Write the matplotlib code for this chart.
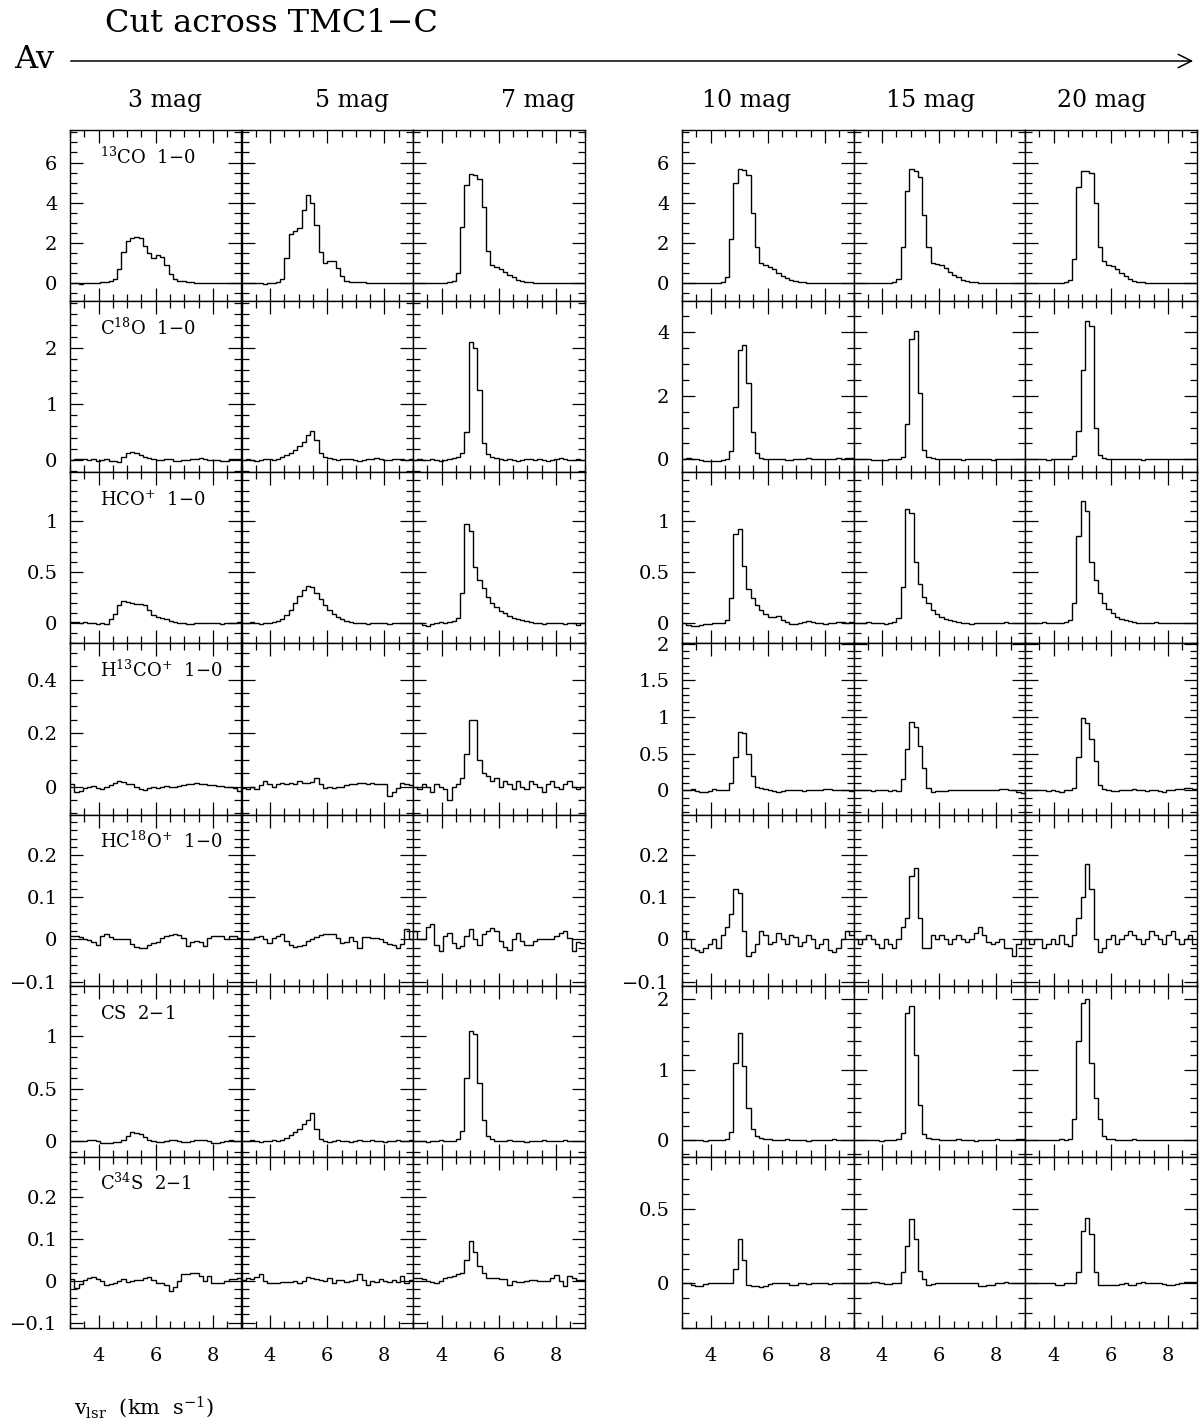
import numpy as np
import matplotlib.pyplot as plt
from matplotlib.ticker import MultipleLocator, FuncFormatter

plt.rcParams['font.family'] = 'DejaVu Serif'
plt.rcParams['mathtext.fontset'] = 'dejavuserif'

# channel edges in km/s (0.15 km/s channels)
chan_edges = np.linspace(3.0, 9.0, 41)

av_cols = ['3 mag', '5 mag', '7 mag', '10 mag', '15 mag', '20 mag']
line_names = [r'$^{13}$CO  1$-$0', r'C$^{18}$O  1$-$0', r'HCO$^{+}$  1$-$0',
              r'H$^{13}$CO$^{+}$  1$-$0', r'HC$^{18}$O$^{+}$  1$-$0',
              r'CS  2$-$1', r'C$^{34}$S  2$-$1']

# spectra, one list per Av column (3, 5, 7, 10, 15, 20 mag)
co13 = [
    [0.0, -0.02, -0.03, -0.02, 0.0, 0.0, 0.02, 0.03, 0.05, 0.08, 0.2, 0.7, 1.55, 2.1, 2.25, 2.3, 2.25, 1.85, 1.5, 1.25,
     1.4, 1.3, 0.9, 0.45, 0.2, 0.1, 0.08, 0.05, 0.03, 0.02, 0.01, 0.0, 0.0, 0.0, 0.0, 0.01, 0.0, 0.0, -0.01, 0.0],
    [0.0, 0.01, 0.02, 0.0, -0.02, -0.03, -0.02, 0.0, 0.05, 0.2, 1.25, 2.45, 2.6, 2.75, 3.65, 4.4, 4.0, 2.9, 1.55, 1.0,
     1.1, 1.1, 0.75, 0.33, 0.12, 0.07, 0.05, 0.04, 0.03, 0.02, 0.01, 0.0, 0.0, 0.0, 0.0, -0.01, -0.02, -0.01, 0.0, 0.01],
    [0.0, -0.02, 0.0, 0.02, 0.0, -0.02, 0.0, 0.02, 0.05, 0.1, 0.5, 2.8, 4.9, 5.45, 5.4, 5.2, 3.8, 1.6, 0.9, 0.8,
     0.7, 0.55, 0.4, 0.3, 0.15, 0.08, 0.05, 0.03, 0.02, 0.0, 0.0, 0.01, 0.0, 0.0, -0.01, 0.0, 0.0, 0.0, 0.01, 0.0],
    [0.0, 0.0, -0.01, 0.0, 0.0, 0.01, 0.0, 0.0, 0.02, 0.05, 0.3, 2.2, 5.0, 5.7, 5.65, 5.4, 3.5, 1.8, 1.0, 0.9,
     0.8, 0.7, 0.5, 0.35, 0.25, 0.15, 0.1, 0.05, 0.03, 0.02, 0.0, 0.0, 0.0, 0.01, 0.0, 0.0, -0.01, 0.0, 0.0, 0.0],
    [0.0, 0.0, 0.0, 0.01, 0.0, 0.0, -0.01, 0.0, 0.02, 0.05, 0.2, 1.8, 4.6, 5.7, 5.6, 5.3, 3.4, 1.8, 1.0, 0.95,
     0.9, 0.75, 0.55, 0.4, 0.3, 0.15, 0.1, 0.05, 0.03, 0.02, 0.01, 0.0, 0.0, 0.0, 0.01, 0.0, 0.0, 0.0, -0.01, 0.0],
    [0.0, 0.0, 0.01, 0.0, 0.0, -0.01, 0.0, 0.0, 0.01, 0.03, 0.15, 1.2, 4.8, 5.6, 5.6, 5.5, 4.0, 1.8, 1.1, 0.9,
     0.85, 0.7, 0.5, 0.35, 0.2, 0.1, 0.05, 0.03, 0.02, 0.01, 0.0, 0.0, 0.0, 0.0, 0.0, 0.01, 0.0, 0.0, 0.0, 0.0],
]
c18o = [
    [0.0, 0.01, 0.02, 0.01, 0.0, 0.01, -0.01, 0.0, 0.02, -0.01, -0.02, -0.03, 0.05, 0.13, 0.14, 0.12, 0.08, 0.05, 0.03, 0.02,
     0.0, 0.0, 0.02, 0.01, -0.01, -0.01, 0.0, 0.0, 0.01, 0.02, 0.03, 0.02, 0.0, 0.0, 0.0, -0.01, -0.01, 0.01, 0.02, 0.02],
    [0.0, 0.01, 0.0, -0.01, 0.0, 0.01, 0.02, 0.0, 0.02, 0.05, 0.08, 0.12, 0.18, 0.25, 0.32, 0.45, 0.52, 0.35, 0.12, 0.05,
     0.03, 0.02, 0.0, 0.01, 0.02, 0.01, 0.0, -0.01, 0.0, 0.01, 0.02, 0.03, 0.02, 0.0, 0.0, 0.01, 0.02, 0.01, 0.0, 0.01],
    [0.0, 0.02, 0.0, 0.0, 0.01, 0.0, -0.01, 0.0, 0.02, 0.03, 0.05, 0.12, 0.5, 2.1, 2.0, 1.25, 0.3, 0.1, 0.05, 0.03,
     0.02, 0.0, 0.01, 0.0, -0.01, 0.0, 0.02, 0.01, 0.0, 0.01, 0.0, -0.01, 0.0, 0.02, 0.03, 0.01, 0.0, 0.0, 0.01, 0.0],
    [0.02, 0.03, 0.02, 0.0, -0.03, -0.05, -0.06, -0.06, -0.05, -0.03, 0.02, 0.25, 1.65, 3.45, 3.6, 2.4, 0.85, 0.2, 0.03, 0.0,
     0.0, 0.01, 0.0, 0.0, -0.01, -0.02, 0.0, 0.01, 0.02, 0.03, 0.02, 0.0, 0.0, 0.01, 0.0, 0.02, 0.03, 0.02, 0.04, 0.05],
    [0.0, 0.0, 0.01, 0.0, -0.02, -0.03, -0.02, -0.01, 0.0, 0.0, 0.01, 0.08, 1.1, 3.8, 4.05, 2.1, 0.3, 0.08, 0.03, 0.02,
     0.0, 0.0, 0.01, 0.0, 0.0, -0.01, 0.0, 0.0, 0.01, 0.0, 0.0, 0.0, -0.01, 0.0, 0.0, 0.01, 0.02, 0.01, 0.0, 0.0],
    [0.0, 0.0, 0.0, 0.01, 0.0, -0.01, 0.0, 0.0, 0.0, 0.01, 0.02, 0.1, 0.9, 2.8, 4.35, 4.2, 1.0, 0.15, 0.05, 0.02,
     0.0, 0.01, 0.0, 0.0, 0.0, 0.01, 0.0, -0.01, 0.0, 0.0, 0.01, 0.0, 0.0, 0.0, 0.01, 0.0, 0.0, 0.0, 0.0, 0.01],
]
hco = [
    [0.01, 0.01, 0.0, 0.01, 0.0, 0.0, -0.01, 0.0, -0.01, 0.04, 0.09, 0.18, 0.22, 0.21, 0.2, 0.19, 0.19, 0.18, 0.13, 0.08,
     0.06, 0.05, 0.04, 0.02, 0.01, 0.0, 0.0, -0.01, -0.01, 0.0, 0.0, 0.0, 0.0, 0.0, 0.0, -0.01, 0.0, 0.0, 0.0, 0.01],
    [0.0, 0.0, 0.01, 0.0, -0.01, 0.0, 0.0, 0.01, 0.02, 0.04, 0.08, 0.13, 0.2, 0.27, 0.32, 0.36, 0.35, 0.3, 0.24, 0.18,
     0.13, 0.09, 0.06, 0.04, 0.02, 0.01, 0.0, 0.0, 0.0, -0.01, 0.0, 0.0, 0.0, 0.0, -0.01, 0.0, 0.0, 0.0, 0.0, 0.0],
    [0.0, 0.0, -0.02, -0.03, -0.01, 0.0, 0.01, 0.0, 0.01, 0.02, 0.05, 0.3, 0.97, 0.9, 0.55, 0.42, 0.34, 0.26, 0.2, 0.16,
     0.12, 0.1, 0.07, 0.05, 0.04, 0.03, 0.02, 0.01, 0.0, 0.0, -0.01, 0.0, 0.0, 0.0, 0.0, -0.01, 0.0, 0.0, -0.02, 0.0],
    [0.0, -0.02, -0.03, -0.03, -0.02, -0.01, -0.01, 0.0, 0.0, 0.0, 0.03, 0.25, 0.87, 0.92, 0.56, 0.33, 0.25, 0.18, 0.13, 0.09,
     0.06, 0.06, 0.07, 0.03, 0.01, -0.01, -0.01, 0.0, 0.01, 0.02, 0.01, 0.0, 0.0, -0.01, 0.0, 0.0, 0.01, 0.01, 0.0, 0.01],
    [0.0, 0.0, 0.0, 0.01, 0.0, 0.0, 0.0, -0.01, 0.0, 0.01, 0.05, 0.35, 1.12, 1.08, 0.6, 0.38, 0.26, 0.2, 0.13, 0.09,
     0.06, 0.04, 0.03, 0.02, 0.01, 0.0, 0.0, -0.01, 0.0, 0.0, 0.0, 0.0, 0.0, 0.0, 0.0, 0.01, 0.0, 0.0, 0.0, 0.0],
    [0.0, 0.0, 0.0, 0.0, 0.01, 0.0, 0.0, 0.0, 0.0, 0.01, 0.03, 0.2, 0.85, 1.2, 1.1, 0.6, 0.42, 0.3, 0.2, 0.14,
     0.1, 0.06, 0.04, 0.03, 0.02, 0.01, 0.0, 0.0, 0.0, 0.0, 0.01, 0.0, 0.0, 0.0, 0.0, 0.0, 0.0, 0.0, 0.0, 0.0],
]
h13co = [
    [0.01, -0.02, -0.015, -0.005, 0.0, 0.003, -0.005, -0.01, -0.003, 0.005, 0.012, 0.02, 0.018, 0.01, 0.008, 0.0, -0.01, -0.012, -0.005, -0.002,
     -0.005, 0.0, 0.002, -0.002, 0.0, 0.003, 0.006, 0.008, 0.01, 0.012, 0.01, 0.008, 0.006, 0.005, 0.003, 0.002, 0.0, -0.002, -0.005, -0.015],
    [-0.005, -0.008, 0.0, -0.01, 0.005, 0.02, 0.008, 0.0, 0.01, 0.012, 0.008, 0.015, 0.01, 0.02, 0.012, 0.015, 0.018, 0.03, 0.01, -0.005,
     0.0, -0.005, -0.003, 0.0, 0.005, 0.008, 0.01, 0.012, 0.015, 0.01, 0.012, 0.01, 0.008, 0.008, -0.035, -0.02, -0.005, 0.015, 0.01, 0.005],
    [0.0, -0.01, 0.01, 0.0, -0.02, 0.01, 0.0, -0.01, -0.05, 0.0, 0.01, 0.03, 0.12, 0.25, 0.25, 0.1, 0.05, 0.04, 0.02, 0.03,
     0.0, 0.02, 0.01, -0.01, 0.02, 0.0, -0.01, 0.02, 0.01, 0.0, -0.02, 0.01, 0.02, 0.0, -0.01, 0.01, 0.02, 0.0, -0.01, 0.0],
    [0.0, 0.01, 0.02, -0.01, -0.02, -0.02, -0.01, 0.02, 0.01, 0.0, 0.0, 0.1, 0.45, 0.8, 0.78, 0.5, 0.2, 0.05, 0.03, 0.02,
     0.0, -0.01, -0.02, -0.01, 0.01, 0.0, 0.01, 0.0, -0.01, 0.0, 0.01, 0.0, 0.0, 0.02, 0.02, 0.01, 0.01, 0.0, 0.0, -0.01],
    [0.0, 0.0, 0.01, 0.0, -0.01, 0.0, 0.0, 0.0, -0.01, 0.0, -0.01, 0.15, 0.57, 0.93, 0.87, 0.6, 0.3, 0.03, -0.02, -0.01,
     -0.01, -0.01, 0.0, 0.0, 0.0, 0.0, 0.01, 0.01, 0.01, 0.0, 0.0, 0.0, 0.0, 0.01, 0.02, 0.02, 0.01, 0.0, -0.02, -0.03],
    [0.0, 0.0, 0.01, 0.0, 0.0, -0.01, 0.0, -0.01, -0.02, 0.0, 0.01, 0.03, 0.45, 0.98, 0.92, 0.7, 0.4, 0.08, 0.02, 0.0,
     -0.01, -0.01, 0.0, 0.01, 0.01, 0.02, 0.01, 0.0, -0.01, 0.0, 0.0, -0.01, -0.02, 0.0, 0.01, 0.02, 0.02, 0.03, 0.03, 0.02],
]
hc18o = [
    [0.008, 0.008, 0.005, 0.0, -0.002, -0.005, -0.012, 0.008, 0.012, 0.005, 0.002, 0.002, 0.002, 0.0, -0.01, -0.018, -0.02, -0.02, -0.014, -0.008,
     -0.005, 0.004, 0.008, 0.01, 0.012, 0.01, 0.004, -0.016, -0.006, -0.004, -0.006, -0.016, 0.004, 0.008, 0.008, 0.008, 0.002, 0.008, 0.008, 0.004],
    [0.002, 0.002, 0.002, 0.006, 0.008, 0.0, -0.008, 0.004, 0.008, 0.012, -0.004, -0.014, -0.018, -0.016, -0.012, -0.004, 0.0, 0.006, 0.01, 0.012,
     0.013, 0.014, 0.004, -0.008, -0.006, 0.006, -0.004, -0.02, 0.006, 0.005, 0.004, 0.004, 0.0, -0.006, -0.01, -0.012, -0.02, -0.01, 0.025, 0.0],
    [0.02, 0.002, 0.002, 0.03, 0.038, -0.012, -0.027, 0.008, 0.016, -0.008, -0.02, -0.015, 0.008, 0.024, 0.0, -0.014, 0.012, 0.02, 0.027, 0.02,
     -0.004, -0.018, -0.024, 0.0, 0.016, -0.004, -0.012, -0.012, -0.004, 0.0, 0.002, 0.002, 0.002, 0.008, 0.015, 0.02, 0.004, -0.028, -0.006, -0.008],
    [0.02, 0.0, -0.02, -0.025, -0.03, -0.02, -0.01, 0.0, -0.02, 0.01, 0.03, 0.06, 0.12, 0.11, 0.02, -0.04, -0.03, -0.01, 0.02, 0.01,
     -0.01, -0.005, 0.015, 0.0, -0.01, 0.01, 0.005, -0.015, -0.005, 0.01, 0.0, -0.02, -0.01, 0.0, -0.025, -0.03, -0.02, 0.0, 0.02, 0.01],
    [0.0, -0.01, 0.0, 0.01, 0.0, -0.01, -0.02, 0.0, -0.01, -0.02, 0.0, 0.03, 0.05, 0.15, 0.17, 0.05, -0.02, -0.02, 0.01, 0.0,
     0.01, 0.0, -0.01, 0.0, 0.01, 0.0, -0.005, 0.0, 0.015, 0.03, 0.01, -0.005, -0.01, -0.005, 0.0, -0.02, -0.02, -0.04, -0.01, 0.0],
    [0.0, -0.01, 0.0, 0.0, -0.02, -0.01, 0.0, -0.01, 0.01, -0.01, -0.015, 0.01, 0.05, 0.1, 0.18, 0.12, 0.0, -0.03, -0.02, 0.0,
     0.01, -0.01, 0.0, 0.01, 0.02, 0.01, 0.0, -0.01, 0.0, 0.02, 0.01, 0.0, -0.01, 0.01, 0.02, 0.0, -0.01, 0.0, 0.01, -0.01],
]
cs = [
    [0.0, 0.0, 0.0, 0.0, 0.01, 0.01, 0.0, -0.02, -0.02, -0.015, -0.01, -0.005, 0.01, 0.05, 0.09, 0.08, 0.07, 0.04, 0.01, 0.0,
     -0.01, -0.01, 0.0, 0.01, 0.01, 0.0, -0.01, -0.01, 0.0, 0.01, 0.01, 0.01, 0.0, -0.015, -0.015, -0.005, 0.0, 0.01, 0.0, 0.0],
    [0.0, 0.0, 0.01, 0.0, -0.01, 0.0, 0.0, 0.01, 0.0, 0.01, 0.03, 0.06, 0.09, 0.12, 0.16, 0.2, 0.27, 0.12, 0.02, 0.0,
     -0.01, 0.0, 0.01, 0.0, 0.0, -0.01, 0.0, 0.01, 0.0, 0.0, 0.01, 0.0, 0.0, -0.01, 0.0, 0.0, 0.01, 0.0, 0.0, 0.01],
    [0.0, 0.0, 0.0, -0.01, 0.0, 0.0, 0.01, 0.0, 0.0, 0.0, 0.02, 0.1, 0.6, 1.05, 1.02, 0.55, 0.2, 0.05, 0.02, 0.0,
     0.0, 0.0, 0.01, 0.0, 0.0, 0.0, -0.01, 0.0, 0.0, 0.0, 0.01, 0.0, 0.0, 0.0, 0.0, 0.01, 0.0, 0.0, 0.0, 0.0],
    [0.0, 0.0, 0.0, 0.0, 0.0, -0.01, 0.0, 0.0, 0.0, 0.0, 0.02, 0.12, 1.1, 1.52, 1.05, 0.45, 0.15, 0.05, 0.03, 0.02,
     0.01, 0.0, 0.0, 0.0, 0.01, 0.0, 0.0, 0.0, 0.0, -0.01, 0.0, 0.0, 0.0, 0.0, 0.0, 0.01, 0.0, 0.0, 0.0, 0.0],
    [0.0, 0.0, 0.0, 0.0, 0.0, 0.0, -0.01, 0.0, 0.0, 0.0, 0.02, 0.1, 1.8, 1.9, 1.2, 0.5, 0.08, 0.03, 0.02, 0.01,
     0.0, 0.0, 0.0, 0.0, 0.01, 0.0, 0.0, 0.0, -0.01, 0.0, 0.0, 0.0, 0.0, 0.01, 0.0, 0.0, 0.0, 0.0, 0.01, 0.01],
    [0.0, 0.0, 0.0, 0.0, 0.0, 0.0, 0.0, 0.0, 0.01, 0.0, 0.02, 0.3, 1.4, 1.95, 2.0, 1.1, 0.6, 0.3, 0.05, 0.02,
     0.01, 0.0, 0.0, 0.0, 0.0, 0.01, 0.0, 0.0, 0.0, 0.0, 0.0, 0.0, 0.0, 0.0, 0.0, 0.0, 0.0, 0.0, 0.0, 0.0],
]
c34s = [
    [0.004, -0.016, -0.008, 0.002, 0.008, 0.01, 0.004, 0.0, -0.01, -0.008, -0.005, 0.0, 0.004, -0.002, 0.0, 0.001, 0.002, 0.006, 0.01, 0.002,
     -0.004, -0.006, -0.01, -0.024, -0.014, 0.0, 0.016, 0.017, 0.018, 0.02, 0.012, 0.0, 0.012, -0.006, -0.005, -0.004, 0.0, 0.004, 0.005, 0.006],
    [0.002, 0.008, 0.004, 0.01, 0.016, 0.0, -0.004, -0.004, -0.004, -0.003, -0.002, -0.002, 0.0, -0.004, 0.0, 0.01, 0.006, 0.004, 0.002, 0.0,
     0.006, -0.004, 0.002, 0.002, -0.003, 0.0, 0.003, 0.016, 0.002, -0.01, 0.0, -0.003, 0.004, 0.0, -0.003, 0.002, -0.002, 0.012, -0.004, 0.002],
    [0.008, 0.008, 0.004, 0.0, -0.002, -0.004, 0.0, 0.006, 0.01, 0.012, 0.016, 0.02, 0.05, 0.095, 0.07, 0.035, 0.02, 0.008, 0.008, 0.008,
     0.004, 0.004, -0.01, 0.0, -0.002, -0.002, 0.0, 0.002, 0.002, 0.0, 0.0, 0.0, 0.008, 0.013, 0.0, -0.012, 0.012, 0.008, 0.002, 0.002],
    [0.0, 0.0, -0.01, -0.017, -0.015, -0.005, 0.0, 0.0, 0.0, 0.0, 0.0, 0.005, 0.1, 0.3, 0.16, -0.01, -0.015, -0.02, -0.025, -0.02,
     -0.005, 0.0, 0.0, 0.0, 0.0, -0.01, -0.01, 0.0, 0.0, -0.005, 0.0, 0.005, 0.0, 0.0, -0.005, 0.0, 0.0, 0.0, 0.0, 0.0],
    [0.0, 0.0, 0.0, 0.005, 0.01, 0.01, 0.005, -0.005, -0.005, 0.0, 0.0, 0.075, 0.25, 0.43, 0.3, 0.085, 0.03, -0.01, -0.005, 0.0,
     0.0, 0.0, 0.0, 0.0, 0.005, 0.005, 0.0, 0.0, 0.0, -0.02, -0.02, -0.01, -0.01, 0.0, 0.005, 0.01, 0.005, 0.0, 0.005, 0.005],
    [0.0, 0.0, 0.005, 0.005, 0.0, 0.0, 0.0, -0.01, -0.01, 0.0, 0.0, 0.0, 0.075, 0.35, 0.44, 0.33, 0.075, -0.01, -0.01, -0.01,
     -0.01, -0.01, -0.005, 0.0, -0.01, -0.01, 0.005, 0.01, 0.0, 0.0, 0.0, 0.0, -0.005, -0.01, -0.01, -0.005, 0.0, 0.01, 0.01, 0.01],
]
spectra = [co13, c18o, hco, h13co, hc18o, cs, c34s]

# y ranges and (major, minor) tick steps, left group / right group
ylim_left = [(-0.9, 7.62), (-0.22, 2.83), (-0.2, 1.48), (-0.105, 0.535), (-0.11, 0.297), (-0.15, 1.48), (-0.113, 0.297)]
ylim_right = [(-0.9, 7.62), (-0.41, 4.98), (-0.2, 1.48), (-0.33, 2.003), (-0.11, 0.297), (-0.24, 2.19), (-0.3, 0.85)]
ytk_left = [(2, 0.5), (1, 0.2), (0.5, 0.1), (0.2, 0.05), (0.1, 0.02), (0.5, 0.1), (0.1, 0.02)]
ytk_right = [(2, 0.5), (2, 0.5), (0.5, 0.1), (0.5, 0.1), (0.1, 0.02), (1, 0.2), (0.5, 0.1)]

W, H = 1200, 1427
fig = plt.figure(figsize=(W / 100, H / 100), dpi=100)

col_x = [70, 241.5, 413, 682, 853.5, 1025]
pw = 171.5
top0 = 130
ph = 171.15


def yfmt(v, pos):
    if abs(v) < 1e-9:
        return '0'
    return ('%g' % round(v, 4)).replace('-', '\u2212')


nrow = len(spectra)
for r in range(nrow):
    for c in range(6):
        x0 = col_x[c]
        y0 = top0 + r * ph
        ax = fig.add_axes([x0 / W, 1 - (y0 + ph) / H, pw / W, ph / H])
        ax.stairs(spectra[r][c], chan_edges, baseline=None, color='k', lw=1.0)
        ax.set_xlim(3, 9)
        if c < 3:
            ax.set_ylim(*ylim_left[r])
            maj, mnr = ytk_left[r]
        else:
            ax.set_ylim(*ylim_right[r])
            maj, mnr = ytk_right[r]
        ax.yaxis.set_major_locator(MultipleLocator(maj))
        ax.yaxis.set_minor_locator(MultipleLocator(mnr))
        ax.xaxis.set_major_locator(MultipleLocator(2))
        ax.xaxis.set_minor_locator(MultipleLocator(0.5))
        ax.tick_params(which='both', direction='in', top=True, right=True, width=0.9, labelsize=14)
        ax.tick_params(which='major', length=9.5)
        ax.tick_params(which='minor', length=5)
        ax.tick_params(axis='y', pad=9)
        ax.tick_params(axis='x', pad=14)
        for sp in ax.spines.values():
            sp.set_linewidth(1.0)
        if c in (0, 3):
            ax.yaxis.set_major_formatter(FuncFormatter(yfmt))
        else:
            ax.set_yticklabels([])
        if r != nrow - 1:
            ax.set_xticklabels([])
        if c == 0:
            ax.text(0.175, 0.805, line_names[r], transform=ax.transAxes, fontsize=13, va='baseline')

# header
fig.text(105 / W, 1 - 32 / H, 'Cut across TMC1\u2212C', fontsize=23, va='baseline', ha='left')
fig.text(14 / W, 1 - 59 / H, 'Av', fontsize=23, va='center', ha='left')
fig.add_artist(plt.matplotlib.patches.FancyArrowPatch(
    (68 / W, 1 - 61 / H), (1196 / W, 1 - 61 / H), transform=fig.transFigure,
    arrowstyle='->', mutation_scale=24, lw=1.1, color='k'))
col_cx = [165, 352, 538, 747, 931, 1102]
for lab, cx in zip(av_cols, col_cx):
    fig.text(cx / W, 1 - 101 / H, lab, fontsize=17, ha='center', va='center')

fig.text(74 / W, 1 - 1414 / H, r'v$_{\rm lsr}$  (km  s$^{-1}$)', fontsize=15, ha='left', va='baseline')

fig.savefig('out.png', dpi=100)
